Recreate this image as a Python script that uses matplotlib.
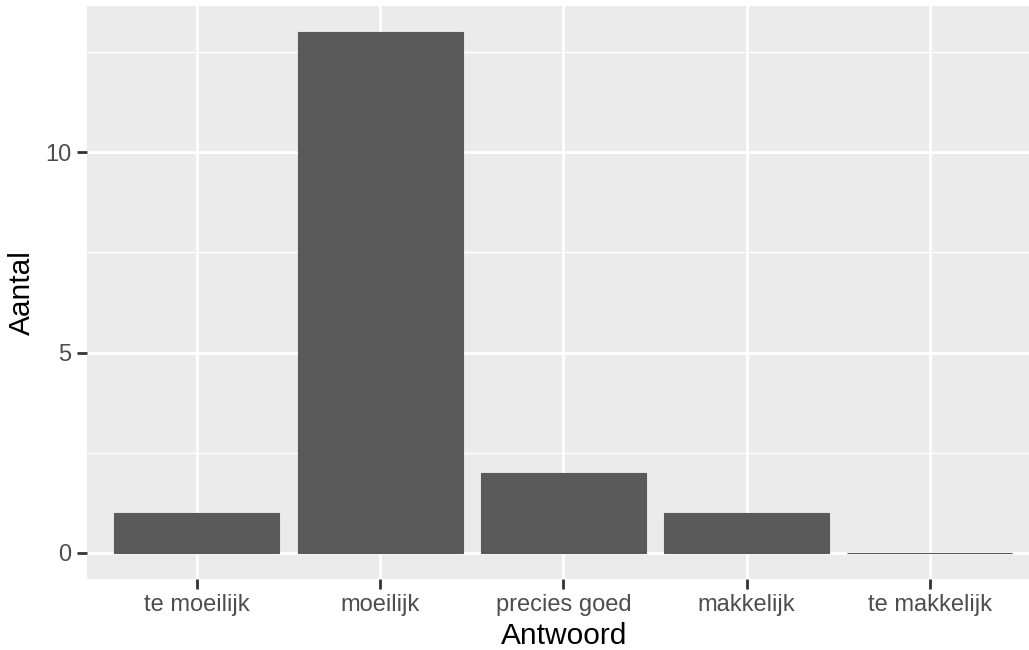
import matplotlib
matplotlib.use("Agg")
import matplotlib.pyplot as plt
import numpy as np

# antwoorden en aantallen
categories = ['te moeilijk', 'moeilijk', 'precies goed', 'makkelijk', 'te makkelijk']
counts = [1, 13, 2, 1, 0]

plt.rcParams['font.family'] = ['Liberation Sans', 'DejaVu Sans']

fig = plt.figure(figsize=(10.29, 6.5), dpi=100)
ax = fig.add_axes([87 / 1029, 71 / 650, 1 - 87 / 1029, (650 - 6 - 71) / 650])
ax.set_facecolor('#EBEBEB')

x = np.arange(len(categories))
ax.bar(x, counts, width=0.9, color='#595959', edgecolor='#595959', linewidth=0.8, zorder=3)

ax.set_xlim(-0.6, 4.542)
ax.set_ylim(-0.65, 13.65)
ax.set_xticks(x)
ax.set_xticklabels(categories)
ax.set_yticks([0, 5, 10])
ax.set_yticks([2.5, 7.5, 12.5], minor=True)
ax.set_xticks([], minor=True)

ax.grid(which='major', color='white', linewidth=2.0, zorder=1)
ax.grid(which='minor', axis='y', color='white', linewidth=1.0, zorder=1)
for s in ax.spines.values():
    s.set_visible(False)

ax.tick_params(axis='both', which='major', colors='#333333', length=7, width=2,
               labelsize=17, labelcolor='#4D4D4D', pad=4)
ax.tick_params(which='minor', length=0)

ax.set_xlabel('Antwoord', fontsize=21.5, color='black', labelpad=3)
ax.set_ylabel('Aantal', fontsize=21.5, color='black', labelpad=7)
# in ggplot staat de titel midden onder het (bijgesneden) paneel
ax.xaxis.set_label_coords(0.507, -0.075)

fig.savefig('out.png', dpi=100)
